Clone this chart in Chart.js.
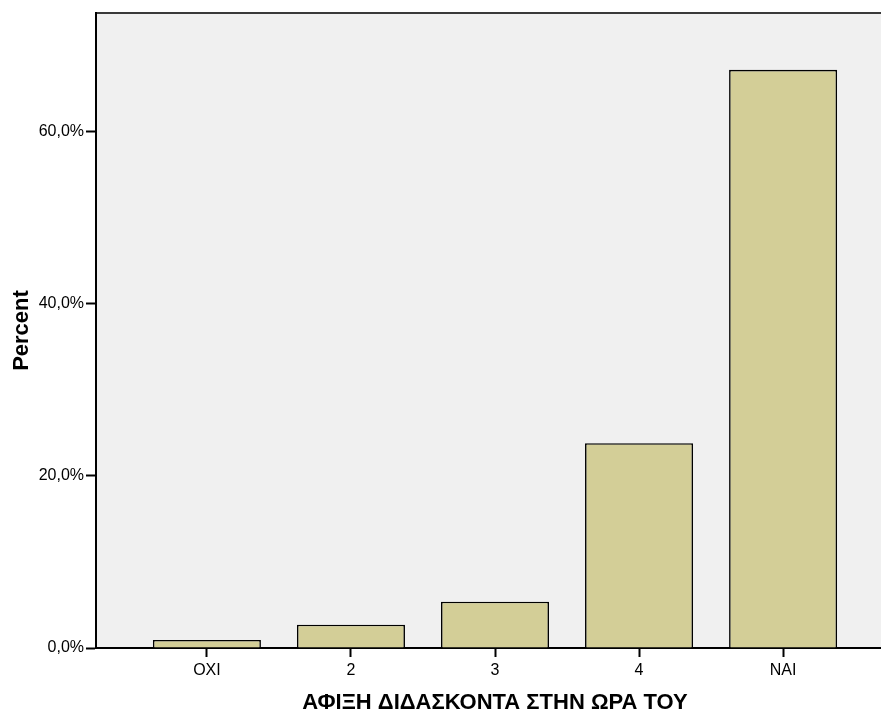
<!DOCTYPE html>
<html>
<head>
<meta charset="utf-8">
<script src="https://cdn.jsdelivr.net/npm/chart.js@4"></script>
<style>
html,body{margin:0;padding:0;background:#fff;overflow:hidden;}
#wrap{width:894px;height:716px;position:relative;}
</style>
</head>
<body>
<div id="wrap"><canvas id="c"></canvas></div>
<script>
const categories = ['OXI', '2', '3', '4', 'NAI'];
const percents = [0.93, 2.71, 5.38, 23.8, 67.2];
const yTicks = [0, 20, 40, 60];
const xTitle = 'ΑΦΙΞΗ ΔΙΔΑΣΚΟΝΤΑ ΣΤΗΝ ΩΡΑ ΤΟΥ';
const yTitle = 'Percent';

const FONT = "'Liberation Sans', Arial, sans-serif";

const bgPlugin = {
  id: 'bg',
  beforeDraw(chart) {
    const {ctx, chartArea: a} = chart;
    ctx.save();
    ctx.fillStyle = '#f0f0f0';
    ctx.fillRect(a.left, a.top, a.right - a.left, a.bottom - a.top);
    ctx.strokeStyle = '#3a3a3a';
    ctx.lineWidth = 2;
    ctx.beginPath();
    ctx.moveTo(a.left, a.top);
    ctx.lineTo(a.right, a.top);
    ctx.stroke();
    ctx.restore();
  }
};

new Chart(document.getElementById('c'), {
  type: 'bar',
  data: {
    datasets: [{
      data: categories.map((c, i) => ({x: i, y: percents[i]})),
      backgroundColor: '#d3ce97',
      borderColor: '#000000',
      borderWidth: 1.6,
      categoryPercentage: 1,
      barPercentage: 0.75
    }]
  },
  options: {
    responsive: true,
    maintainAspectRatio: false,
    animation: false,
    layout: {padding: {top: 13, right: 0, left: 0, bottom: 0}},
    plugins: {legend: {display: false}, tooltip: {enabled: false}},
    scales: {
      x: {
        type: 'linear',
        offset: false,
        min: -0.77,
        max: 4.77,
        afterBuildTicks(s) { s.ticks = categories.map((c, i) => ({value: i})); },
        afterFit(s) { s.height = 68; },
        ticks: {
          callback: (v) => categories[v] ?? '',
          color: '#000',
          font: {family: FONT, size: 16},
          padding: 4,
          maxRotation: 0,
          autoSkip: false
        },
        grid: {display: true, offset: false, drawOnChartArea: false, drawTicks: true, tickLength: 9, tickWidth: 2, tickColor: '#000'},
        border: {display: true, color: '#000', width: 2},
        title: {display: true, text: xTitle, color: '#000', font: {family: FONT, size: 22, weight: 'bold'}, padding: {top: 0, bottom: 0}}
      },
      y: {
        min: 0,
        max: 73.8,
        afterBuildTicks(s) { s.ticks = yTicks.map(v => ({value: v})); },
        afterFit(s) { s.width = 96; },
        ticks: {
          callback: (v) => v.toFixed(1).replace('.', ',') + '%',
          color: '#000',
          font: {family: FONT, size: 16},
          padding: 2
        },
        grid: {display: true, drawOnChartArea: false, drawTicks: true, tickLength: 10, tickWidth: 2, tickColor: '#000'},
        border: {display: true, color: '#000', width: 2},
        title: {display: true, text: yTitle, color: '#000', font: {family: FONT, size: 22, weight: 'bold'}, padding: {top: 9, bottom: 0}}
      }
    }
  },
  plugins: [bgPlugin]
});
</script>
</body>
</html>
